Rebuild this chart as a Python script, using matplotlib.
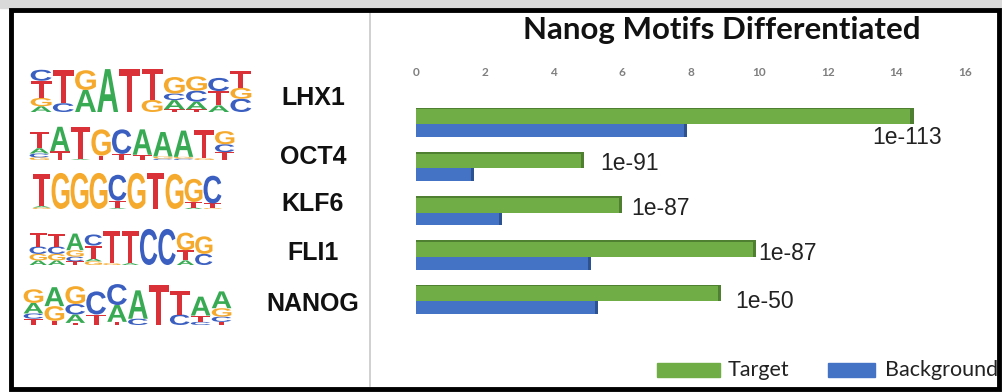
import matplotlib
matplotlib.use("Agg")
import matplotlib.pyplot as plt
from matplotlib.patches import Rectangle, PathPatch
from matplotlib.textpath import TextPath
from matplotlib.font_manager import FontProperties
from matplotlib.transforms import Affine2D

# ---------------- data ----------------
factors = ["LHX1", "OCT4", "KLF6", "FLI1", "NANOG"]
target = [14.5, 4.9, 6.0, 9.9, 8.9]
background = [7.9, 1.7, 2.5, 5.1, 5.3]
pvalues = ["1e-113", "1e-91", "1e-87", "1e-87", "1e-50"]
xticks = [0, 2, 4, 6, 8, 10, 12, 14, 16]
series_names = ["Target", "Background"]
title = "Nanog Motifs Differentiated"

# sequence logos: one list per position, bases stacked bottom to top as (base, bits)
logo_lhx1 = [
    [("A", .26), ("G", .38), ("T", .78), ("C", .5)],
    [("C", .4), ("T", 1.5)],
    [("A", 1.0), ("G", .9)],
    [("A", 1.95)],
    [("T", 1.95)],
    [("G", .55), ("T", 1.4)],
    [("T", .12), ("A", .42), ("C", .3), ("G", .75)],
    [("T", .12), ("A", .35), ("C", .5), ("G", .65)],
    [("A", .3), ("T", .65), ("C", .6)],
    [("C", .6), ("G", .5), ("T", .75)],
]
logo_oct4 = [
    [("G", .15), ("C", .22), ("A", .3), ("T", .95)],
    [("T", .5), ("A", 1.4)],
    [("A", .05), ("T", 1.85)],
    [("T", .25), ("G", 1.5)],
    [("T", .35), ("C", 1.4)],
    [("T", .3), ("A", 1.45)],
    [("C", .08), ("G", .12), ("A", 1.4)],
    [("C", .08), ("G", .1), ("A", 1.5)],
    [("G", .1), ("T", 1.6)],
    [("T", .45), ("C", .45), ("G", .75)],
]
logo_klf6 = [
    [("G", .08), ("A", .08), ("T", 1.75)],
    [("G", 1.95)],
    [("G", 1.95)],
    [("G", 1.95)],
    [("A", .05), ("T", .4), ("C", 1.4)],
    [("G", 1.95)],
    [("T", 1.95)],
    [("G", 1.9)],
    [("A", .08), ("T", .3), ("G", 1.25)],
    [("G", .05), ("T", .25), ("C", 1.5)],
]
logo_fli1 = [
    [("A", .25), ("G", .35), ("C", .4), ("T", .75)],
    [("A", .25), ("G", .35), ("C", .4), ("T", .7)],
    [("T", .2), ("C", .25), ("G", .35), ("A", .9)],
    [("G", .2), ("A", .15), ("T", .7), ("C", .6)],
    [("G", .1), ("T", 1.75)],
    [("A", .1), ("T", 1.75)],
    [("C", 1.95)],
    [("C", 1.95)],
    [("A", .25), ("T", .55), ("G", .95)],
    [("C", .6), ("G", .95)],
]
logo_nanog = [
    [("T", .3), ("C", .25), ("A", .5), ("G", .65)],
    [("T", .2), ("G", .7), ("A", .9)],
    [("T", .1), ("A", .4), ("C", .5), ("G", .85)],
    [("T", .5), ("C", 1.1)],
    [("T", .15), ("A", .8), ("C", 1.0)],
    [("C", .3), ("A", 1.35)],
    [("T", 1.9)],
    [("C", .5), ("T", 1.1)],
    [("C", .15), ("T", .3), ("A", .9)],
    [("T", .15), ("C", .25), ("G", .4), ("A", .8)],
]
logos = [logo_lhx1, logo_oct4, logo_klf6, logo_fli1, logo_nanog]

# ---------------- styling ----------------
W, H = 1002, 392
base_colors = {"A": "#2da64a", "C": "#2f56bd", "G": "#f5a623", "T": "#d8262d"}
green, green_dark = "#70ad47", "#4f7f31"
blue, blue_dark = "#4472c4", "#2c528f"

# pixel boxes (left, top, right, bottom) for each logo
logo_boxes = [(30, 68, 252, 112), (29, 125, 235, 160), (32, 172, 222, 209),
              (29, 228, 213, 265), (23, 283, 232, 325)]
label_y = [98, 157, 204, 253, 304]
# offsets of the p-value annotations from the end of the target bar
ann_dx = [-1.2, 0.47, 0.26, 0.08, 0.39]
ann_dy = [0.30, -0.10, -0.10, -0.08, 0.02]


def fig_box(x0, y0, x1, y1):
    return [x0 / W, 1 - y1 / H, (x1 - x0) / W, (y1 - y0) / H]


fig = plt.figure(figsize=(W / 100, H / 100), dpi=100)
fig.patch.set_facecolor("white")

letter_font = FontProperties(family="Liberation Sans", weight="bold")


def draw_letter(ax, base, x, y, w, h):
    tp = TextPath((0, 0), base, size=1, prop=letter_font)
    bb = tp.get_extents()
    tr = (Affine2D().translate(-bb.x0, -bb.y0)
          .scale(w * 0.94 / bb.width, h / bb.height)
          .translate(x + w * 0.03, y))
    ax.add_patch(PathPatch(tr.transform_path(tp), fc=base_colors[base],
                           ec="none", alpha=0.95))


for logo, box in zip(logos, logo_boxes):
    lax = fig.add_axes(fig_box(*box))
    lax.set_xlim(0, len(logo))
    lax.set_ylim(0, 2)
    lax.axis("off")
    for i, column in enumerate(logo):
        y = 0.0
        for base, bits in column:
            draw_letter(lax, base, i, y, 1.0, bits)
            y += bits

for name, y in zip(factors, label_y):
    fig.text(313 / W, 1 - y / H, name, ha="center", va="center",
             fontsize=18, fontweight="bold", family="Liberation Sans",
             color="#111111")

# ---------------- bar chart ----------------
ax = fig.add_axes(fig_box(416, 95, 965, 330))
pos = list(range(len(factors)))
h_t, h_b = 0.37, 0.29
ax.barh([p - h_t / 2 for p in pos], target, height=h_t, color=green,
        edgecolor="none", zorder=2)
ax.barh([p + h_b / 2 for p in pos], background, height=h_b, color=blue,
        edgecolor="none", zorder=2)
# darker end faces give the bars their bevelled look
cap = 0.09
ax.barh([p - h_t / 2 for p in pos], [cap] * len(pos),
        left=[v - cap for v in target], height=h_t, color=green_dark, zorder=3)
ax.barh([p + h_b / 2 for p in pos], [cap] * len(pos),
        left=[v - cap for v in background], height=h_b, color=blue_dark, zorder=3)
ax.barh([p - h_t + 0.02 for p in pos], target, height=0.04, color=green_dark,
        zorder=3)

for p, v, txt, dx, dy in zip(pos, target, pvalues, ann_dx, ann_dy):
    ax.text(v + dx, p + dy, txt, ha="left", va="center", fontsize=16.5,
            family="Liberation Sans", color="#222222")

ax.set_xlim(0, 16)
ax.set_ylim(len(factors) - 1 + 0.655, -0.655)
ax.set_xticks(xticks)
ax.set_xticklabels([str(t) for t in xticks])
ax.xaxis.tick_top()
ax.tick_params(axis="x", length=0, pad=12, labelsize=8.5, labelcolor="#7f7f7f")
for lbl in ax.get_xticklabels():
    lbl.set_fontweight("bold")
    lbl.set_family("Lato")
ax.set_yticks([])
for s in ax.spines.values():
    s.set_visible(False)
ax.patch.set_alpha(0)

fig.text(722 / W, 1 - 30 / H, title, ha="center", va="center",
         fontsize=22.5, fontweight="bold", family="Lato", color="#111111")

# legend
for (x0, x1), col, name, tx in zip([(657, 720), (828, 875)], [green, blue],
                                   series_names, [728, 885]):
    fig.add_artist(Rectangle((x0 / W, 1 - 377 / H), (x1 - x0) / W, 14 / H,
                             transform=fig.transFigure, color=col))
    fig.text(tx / W, 1 - 370 / H, name, ha="left", va="center", fontsize=15.5,
             family="Lato", color="#222222")

# frame and panel divider
fig.add_artist(Rectangle((0, 1 - 8 / H), 1, 8 / H, transform=fig.transFigure,
                         color="#d9d9d9", zorder=8))
fig.add_artist(plt.Line2D([370 / W, 370 / W], [1 - 386 / H, 1 - 12 / H],
                          transform=fig.transFigure, color="#c8c8c8", lw=1.2,
                          zorder=9))
fig.add_artist(Rectangle((11 / W, 1 - 389 / H), 988 / W, 379 / H,
                         transform=fig.transFigure, fill=False, ec="black",
                         lw=3.5, zorder=10))

fig.savefig("out.png", dpi=100)
